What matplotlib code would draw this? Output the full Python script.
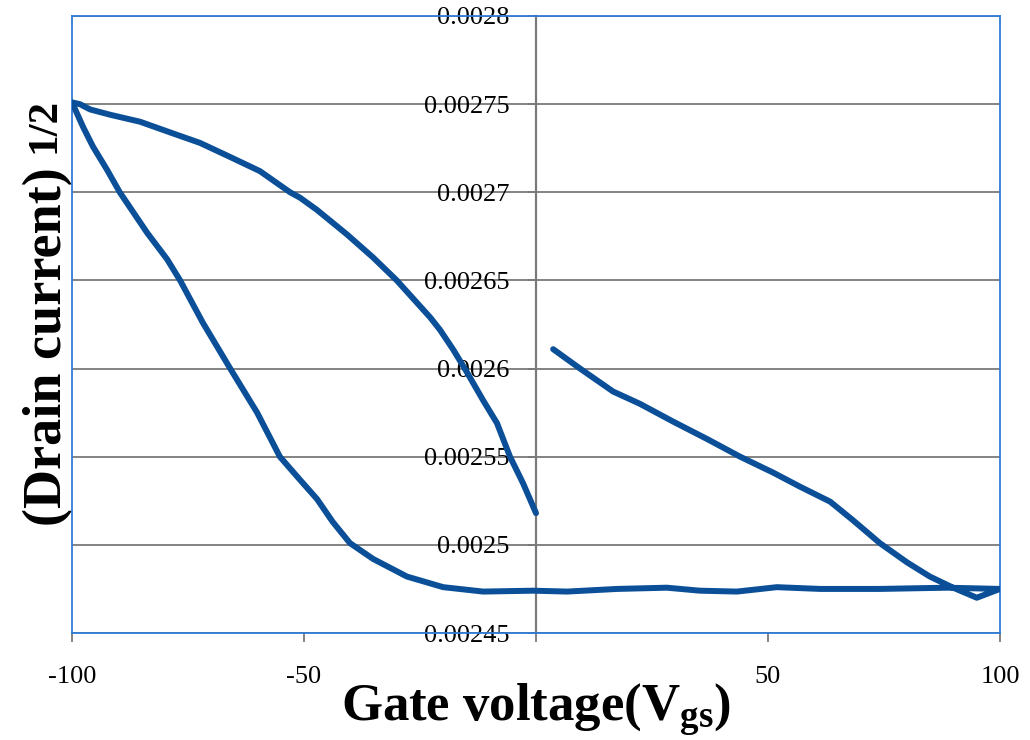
import numpy as np
import matplotlib.pyplot as plt

# sqrt(Id) transfer sweep, read in three legs: 0 -> -100 V, -100 -> 100 V, 100 -> ~0 V
vg_rev = [0, -2.8, -5.6, -8.4, -11.4, -14.9, -17.9, -20.7, -22.8, -30.0, -35.1, -40.7, -47.2,
          -50.9, -53.0, -59.5, -65.9, -72.4, -78.9, -85.3, -91.8, -96.1, -98.3, -100]
sq_rev = [0.002518, 0.002535, 0.00255, 0.002569, 0.002582, 0.002598, 0.002611, 0.002622,
          0.002629, 0.00265, 0.002663, 0.002676, 0.00269, 0.002697, 0.0027, 0.002712,
          0.00272, 0.002728, 0.002734, 0.00274, 0.002744, 0.002747, 0.00275, 0.002751]

vg_fwd = [-100, -97.6, -95.5, -92.5, -89.7, -83.8, -79.5, -76.7, -71.8, -65.9, -60.1, -55.2,
          -50.9, -47.2, -43.8, -40.1, -35.1, -27.8, -20.0, -11.4, -0.6, 6.7, 17.5, 28.2,
          35.3, 43.3, 51.9, 61.2, 74.1, 88.6, 100]
sq_fwd = [0.002751, 0.002737, 0.002726, 0.002713, 0.0027, 0.002677, 0.002662, 0.00265,
          0.002626, 0.0026, 0.002575, 0.00255, 0.002537, 0.002526, 0.002513, 0.002501,
          0.002492, 0.002482, 0.002476, 0.0024735, 0.002474, 0.0024735, 0.002475, 0.0024757,
          0.002474, 0.0024735, 0.002476, 0.002475, 0.002475, 0.0024757, 0.002475]

vg_ret = [100, 95.0, 89.9, 84.9, 80.0, 74.1, 68.3, 63.4, 56.9, 51.1, 44.0, 36.9, 29.5,
          22.4, 16.6, 9.5, 3.7]
sq_ret = [0.002475, 0.00247, 0.0024757, 0.002482, 0.00249, 0.002501, 0.002514, 0.0025245,
          0.002533, 0.002541, 0.00255, 0.00256, 0.00257, 0.00258, 0.002587, 0.0026, 0.002611]

yticks = [0.00245, 0.0025, 0.00255, 0.0026, 0.00265, 0.0027, 0.00275, 0.0028]
ytick_labels = ['0.00245', '0.0025', '0.00255', '0.0026', '0.00265', '0.0027', '0.00275', '0.0028']
xticks = [-100, -50, 0, 50, 100]
xtick_labels = ['-100', '-50', '', '50', '100']

plt.rcParams['font.family'] = 'Liberation Serif'
plt.rcParams['mathtext.fontset'] = 'custom'
plt.rcParams['mathtext.rm'] = 'Liberation Serif'
plt.rcParams['mathtext.bf'] = 'Liberation Serif:bold'
plt.rcParams['mathtext.it'] = 'Liberation Serif:italic'

border = '#2f7bd6'
grid = '#7a7a7a'
trace = '#0a4f97'

fig = plt.figure(figsize=(10.3, 7.4), dpi=100)
ax = fig.add_axes([72 / 1030, 1 - 633 / 740, 928 / 1030, 617 / 740])

vg = np.concatenate([vg_rev, vg_fwd[1:], vg_ret[1:]])
sq = np.concatenate([sq_rev, sq_fwd[1:], sq_ret[1:]])
ax.plot(vg, sq, color=trace, lw=4.3, solid_capstyle='round', solid_joinstyle='round', zorder=3)

ax.set_xlim(-100, 100)
ax.set_ylim(0.00245, 0.0028)

# value axis crosses at Vgs = 0, the outer frame stays blue
ax.spines['left'].set_position(('data', 0))
ax.spines['left'].set_color(grid)
ax.spines['left'].set_linewidth(1.6)
for side in ('top', 'right', 'bottom'):
    ax.spines[side].set_color(border)
    ax.spines[side].set_linewidth(1.3)
ax.axvline(-100, color=border, lw=1.3, clip_on=False, zorder=2.6)

ax.set_yticks(yticks)
ax.set_yticklabels(ytick_labels)
ax.set_xticks(xticks)
ax.set_xticklabels(xtick_labels)
ax.tick_params(axis='y', direction='out', length=6, width=1.3, color=grid, pad=13, labelsize=19)
ax.tick_params(axis='x', direction='out', length=6.5, width=1.3, color=grid, pad=17, labelsize=19)
ax.yaxis.grid(True, color=grid, lw=1.3)
ax.set_axisbelow(True)

ax.set_xlabel(r'Gate voltage(V$_{\mathbf{gs}}$)', fontsize=38, fontweight='bold')
ax.xaxis.set_label_coords(0.5, -0.078)
ax.set_ylabel('(Drain current)', fontsize=39, fontweight='bold')
ax.yaxis.set_label_coords(0.001, 0.4635)
fig.text(44 / 1030, 1 - 125 / 740, '1/2', rotation=90, ha='center', va='center',
         fontsize=31, fontweight='bold')

fig.savefig('out.png', dpi=100)
